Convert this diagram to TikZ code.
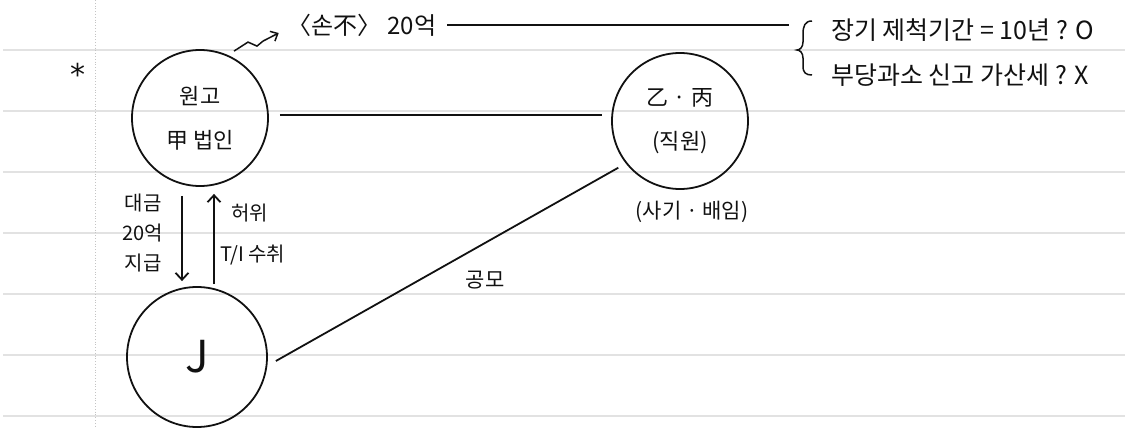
\documentclass[tikz,border=0pt]{standalone}
\usepackage{fontspec}
\usepackage{tikz}
\usetikzlibrary{arrows.meta,positioning}
\newfontfamily\kr{Noto Sans CJK KR}
\newfontfamily\sym{DejaVu Sans}
\definecolor{ink}{HTML}{111111}
\definecolor{rulec}{HTML}{E2E2E2}
\definecolor{marginc}{HTML}{C4C4C4}
\tikzset{
  party/.style={draw=ink, circle, line width=1.8pt, minimum size=136pt, inner sep=0pt,
                align=center, font=\kr\fontsize{22}{44}\selectfont, text=ink},
  txt/.style={font=\kr\fontsize{20}{30}\selectfont, text=ink, align=center, inner sep=1pt},
  note/.style={txt, font=\kr\fontsize{25}{28}\selectfont, anchor=west},
  ln/.style={draw=ink, line width=1.8pt},
  arr/.style={ln, -{Straight Barb[length=7pt,width=13pt]}},
}

\begin{document}
\begin{tikzpicture}[x=1pt, y=-1pt]
  \useasboundingbox (0,0) rectangle (1125,428);
  % notebook page
  \foreach \r in {50,111,172,233,294,355,416}
    \draw[rulec, line width=1.2pt] (3,\r) -- (1125,\r);
  \draw[marginc, dotted, line width=0.8pt] (95,0) -- (95,428);
  \node[txt, font=\sym\fontsize{30}{30}\selectfont] (star) at (78,74) {*};

  \node[party] (won) at (200,118) {원고\\甲 법인};
  \node[party] (eul) at (680,121) {乙 · 丙\\(직원)};
  \node[party, minimum size=140pt, font=\kr\fontsize{44}{46}\selectfont] (j) at (197,357) {J};
  \node[txt, font=\kr\fontsize{21}{24}\selectfont, below=10pt of eul, xshift=12pt] (crime) {(사기 · 배임)};

  % 20억 and the two questions
  \node[txt, font=\kr\fontsize{24}{28}\selectfont] (loss) at (362,25) {〈손不〉 20억};
  \node[note] (n1) at (830,30) {장기 제척기간 = 10년 ? O};
  \node[note] (n2) at (830,75) {부당과소 신고 가산세 ? X};
  \coordinate (br) at (789,25);
  \draw[ln] ([xshift=10pt]loss.east) -- (br);
  \draw[ln, line width=1.5pt] (812,21) .. controls (805,21) and (803,26) .. (803,34)
    -- (803,42) .. controls (803,47) and (800,50) .. (797,50)
    .. controls (800,50) and (803,53) .. (803,58) -- (803,66)
    .. controls (803,73) and (806,75) .. (812,75);
  \draw[ln, line width=1.5pt, -{Straight Barb[length=6pt,width=11pt]}]
    ([xshift=34pt,yshift=-2pt]won.north) -- ++(14,-9) -- ++(9,4) -- ++(6,-5)
    -- ([xshift=-8pt,yshift=-8pt]loss.west);

  % money and invoice
  \draw[arr] ([xshift=-18pt,yshift=-9pt]won.south) -- ([xshift=-15pt,yshift=5pt]j.north);
  \draw[arr] ([xshift=17pt,yshift=2pt]j.north) -- ([xshift=14pt,yshift=-7pt]won.south);
  \node[txt] (pay) at (143,233) {대금\\20억\\지급};
  \node[txt, anchor=west] (fake) at (230,213) {허위};
  \node[txt, anchor=west] (ti) at (219,255) {T/I 수취};

  \draw[ln] ([xshift=11pt,yshift=3pt]won.east) -- ([xshift=-9pt,yshift=6pt]eul.west);
  \draw[ln] ([xshift=8pt,yshift=-4pt]j.east) -- ([xshift=-13pt,yshift=2pt]eul.south west);
  \node[txt, font=\kr\fontsize{21}{24}\selectfont] (plot) at (485,280) {공모};
\end{tikzpicture}
\end{document}
